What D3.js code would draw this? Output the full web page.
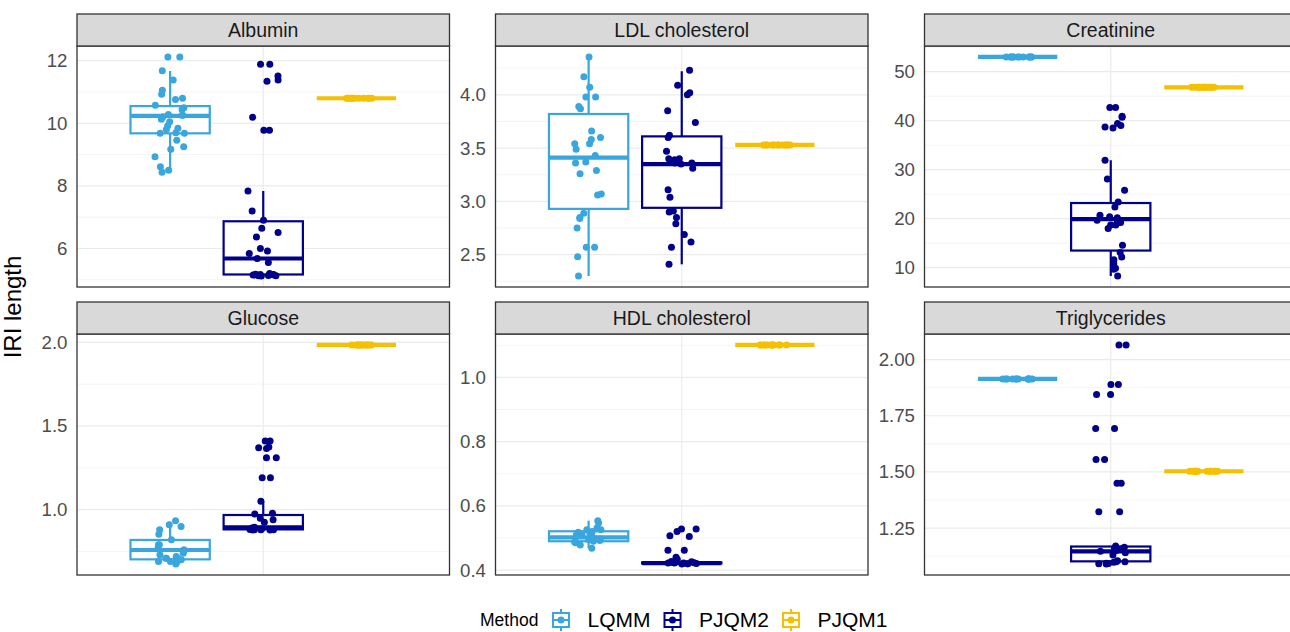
<!DOCTYPE html>
<html>
<head>
<meta charset="utf-8">
<script src="https://cdn.jsdelivr.net/npm/d3@7"></script>
<style>
  html, body { margin: 0; padding: 0; background: #ffffff; }
  svg { display: block; }
  text { font-family: "Liberation Sans", Arial, Helvetica, sans-serif; }
</style>
</head>
<body>
<svg id="chart" width="1290" height="632"></svg>
<script>
// ---- Data --------------------------------------------------------------
const biomarkers = ["Albumin", "LDL cholesterol", "Creatinine", "Glucose", "HDL cholesterol", "Triglycerides"];
const methods = ["LQMM", "PJQM2", "PJQM1"];

// IRI lengths per biomarker and method
const albuminLQMM = [12.12, 12.12, 11.68, 11.38, 11.06, 10.93, 10.80, 10.76, 10.58, 10.50, 10.44, 10.26, 10.26, 10.21, 10.13, 10.28, 9.92, 9.84, 9.80, 9.70, 9.68, 9.68, 9.46, 9.25, 9.17, 8.93, 8.61, 8.44, 8.50, 10.05];
const albuminPJQM2 = [11.89, 11.89, 11.51, 11.38, 11.34, 10.19, 9.78, 9.78, 7.84, 7.20, 6.90, 6.65, 6.51, 6.37, 6.00, 5.92, 5.84, 5.55, 5.68, 5.20, 5.18, 5.17, 5.16, 5.15, 5.14, 5.13, 5.12, 5.15, 5.17, 5.13];
const albuminPJQM1 = [10.80, 10.80, 10.80, 10.80, 10.80, 10.80, 10.80, 10.80, 10.80, 10.80, 10.80, 10.80];

const ldlLQMM = [4.355, 4.17, 4.07, 3.98, 3.98, 3.89, 3.87, 3.66, 3.60, 3.58, 3.54, 3.54, 3.49, 3.43, 3.37, 3.36, 3.29, 3.26, 3.07, 3.06, 2.89, 2.85, 2.84, 2.75, 2.57, 2.57, 2.48, 2.30];
const ldlPJQM2 = [4.23, 4.09, 4.02, 4.00, 3.85, 3.74, 3.62, 3.60, 3.47, 3.40, 3.40, 3.39, 3.35, 3.36, 3.37, 3.36, 3.31, 3.11, 3.04, 2.90, 2.91, 2.85, 2.79, 2.69, 2.62, 2.57, 2.41];
const ldlPJQM1 = [3.53, 3.53, 3.53, 3.53, 3.53, 3.53, 3.53, 3.53, 3.53, 3.53, 3.53, 3.53];

const creatinineLQMM = [53.0, 53.0, 53.0, 53.0, 53.0, 53.0, 53.0, 53.0, 53.0, 53.0, 53.0, 53.0];
const creatininePJQM2 = [42.7, 42.7, 40.7, 40.9, 38.7, 38.5, 39.0, 39.4, 31.9, 28.1, 25.8, 23.4, 22.4, 20.7, 20.4, 20.2, 19.7, 19.2, 18.7, 18.7, 19.1, 18.0, 14.6, 13.1, 12.2, 11.6, 10.8, 9.9, 9.7, 8.3];
const creatininePJQM1 = [46.8, 46.8, 46.8, 46.8, 46.8, 46.8, 46.8, 46.8, 46.8, 46.8, 46.8, 46.8];

const glucoseLQMM = [0.934, 0.91, 0.90, 0.88, 0.853, 0.82, 0.79, 0.79, 0.77, 0.76, 0.74, 0.73, 0.71, 0.71, 0.71, 0.71, 0.69, 0.69, 0.675, 0.69, 0.70, 0.72, 0.75];
const glucosePJQM2 = [1.41, 1.41, 1.375, 1.37, 1.365, 1.31, 1.31, 1.19, 1.19, 1.05, 0.978, 0.974, 0.948, 0.94, 0.925, 0.88, 0.88, 0.878, 0.88, 0.882, 0.879, 0.885, 0.89, 0.895];
const glucosePJQM1 = [1.984, 1.984, 1.984, 1.984, 1.984, 1.984, 1.984, 1.984, 1.984, 1.984, 1.984, 1.984];

const hdlLQMM = [0.554, 0.547, 0.531, 0.526, 0.526, 0.516, 0.52, 0.518, 0.51, 0.502, 0.497, 0.488, 0.485, 0.49, 0.487, 0.468, 0.492, 0.495, 0.505, 0.512, 0.478, 0.50];
const hdlPJQM2 = [0.528, 0.528, 0.52, 0.507, 0.505, 0.462, 0.462, 0.426, 0.424, 0.42, 0.427, 0.434, 0.419, 0.44, 0.422, 0.422, 0.421, 0.423, 0.422, 0.42];
const hdlPJQM1 = [1.101, 1.101, 1.101, 1.101, 1.101, 1.101, 1.101, 1.101, 1.101, 1.101, 1.101, 1.101];

const trigLQMM = [1.914, 1.914, 1.914, 1.914, 1.914, 1.914, 1.914, 1.914, 1.914, 1.914, 1.914, 1.914];
const trigPJQM2 = [2.065, 2.065, 1.889, 1.889, 1.844, 1.844, 1.693, 1.693, 1.555, 1.555, 1.45, 1.45, 1.323, 1.323, 1.17, 1.16, 1.13, 1.15, 1.157, 1.147, 1.165, 1.14, 1.10, 1.094, 1.091, 1.105, 1.10, 1.092, 1.098, 1.09];
const trigPJQM1 = [1.503, 1.503, 1.503, 1.503, 1.503, 1.503, 1.503, 1.503, 1.503, 1.503, 1.503, 1.503];

// Box summaries per method: [lower whisker, Q1, median, Q3, upper whisker]
const albuminStats = [[8.44, 9.68, 10.24, 10.55, 11.67], [5.12, 5.17, 5.68, 6.87, 7.84], [10.80, 10.80, 10.80, 10.80, 10.80]];
const ldlStats = [[2.30, 2.93, 3.41, 3.82, 4.35], [2.41, 2.94, 3.35, 3.61, 4.22], [3.53, 3.53, 3.53, 3.53, 3.53]];
const creatinineStats = [[53.0, 53.0, 53.0, 53.0, 53.0], [8.3, 13.5, 19.9, 23.2, 31.9], [46.8, 46.8, 46.8, 46.8, 46.8]];
const glucoseStats = [[0.675, 0.703, 0.759, 0.819, 0.928], [0.878, 0.882, 0.894, 0.968, 1.05], [1.984, 1.984, 1.984, 1.984, 1.984]];
const hdlStats = [[0.468, 0.490, 0.502, 0.521, 0.554], [0.421, 0.421, 0.422, 0.424, 0.424], [1.101, 1.101, 1.101, 1.101, 1.101]];
const trigStats = [[1.914, 1.914, 1.914, 1.914, 1.914], [1.09, 1.102, 1.146, 1.168, 1.17], [1.503, 1.503, 1.503, 1.503, 1.503]];

// y-axis breaks per panel
const albuminTicks = [6, 8, 10, 12];
const ldlTicks = [2.5, 3.0, 3.5, 4.0];
const creatinineTicks = [10, 20, 30, 40, 50];
const glucoseTicks = [1.0, 1.5, 2.0];
const hdlTicks = [0.4, 0.6, 0.8, 1.0];
const trigTicks = [1.25, 1.50, 1.75, 2.00];
const tickDecimals = [0, 1, 0, 1, 1, 2];

// ---- Assemble panel table ----------------------------------------------
const panelPoints = [
  [albuminLQMM, albuminPJQM2, albuminPJQM1],
  [ldlLQMM, ldlPJQM2, ldlPJQM1],
  [creatinineLQMM, creatininePJQM2, creatininePJQM1],
  [glucoseLQMM, glucosePJQM2, glucosePJQM1],
  [hdlLQMM, hdlPJQM2, hdlPJQM1],
  [trigLQMM, trigPJQM2, trigPJQM1]
];
const panelStats = [albuminStats, ldlStats, creatinineStats, glucoseStats, hdlStats, trigStats];
const panelTicks = [albuminTicks, ldlTicks, creatinineTicks, glucoseTicks, hdlTicks, trigTicks];

// ---- Appearance --------------------------------------------------------
const colors = ["#39A6DE", "#00008B", "#F5C000"];
const panelLefts = [77, 495.5, 924.5];
const stripTops = [14, 302];
const PANEL_W = 372.5, STRIP_H = 32, PANEL_H = 241;
const POINT_R = 3.5;

const svg = d3.select("#chart");
svg.append("rect").attr("width", 1290).attr("height", 632).attr("fill", "#ffffff");

// single discrete x position, dodged into three groups
const x = d3.scaleLinear().domain([0.4, 1.6]).range([0, PANEL_W]);
const dodge = d3.scaleOrdinal().domain(methods).range([0.7, 1.0, 1.3]);
const BOX_HALF = 0.1277;
const JITTER = 0.05;
const rng = d3.randomLcg(0.4217);

biomarkers.forEach((name, i) => {
  const col = i % 3, row = Math.floor(i / 3);
  const left = panelLefts[col];
  const stripTop = stripTops[row];
  const top = stripTop + STRIP_H;

  const allVals = panelPoints[i].flat().concat(panelStats[i].flat());
  const lo = d3.min(allVals), hi = d3.max(allVals);
  const pad = (hi - lo) * 0.05;
  const y = d3.scaleLinear().domain([lo - pad, hi + pad]).range([PANEL_H, 0]);

  const clipId = "clip" + i;
  svg.append("clipPath").attr("id", clipId)
    .append("rect").attr("x", 0).attr("y", 0).attr("width", PANEL_W).attr("height", PANEL_H);

  const g = svg.append("g").attr("transform", `translate(${left},${top})`);
  const inner = g.append("g").attr("clip-path", `url(#${clipId})`);

  // grid: minor breaks halfway between majors
  const ticks = panelTicks[i];
  const step = ticks[1] - ticks[0];
  const minors = [ticks[0] - step / 2]
    .concat(ticks.map(t => t + step / 2))
    .filter(v => v >= y.domain()[0] && v <= y.domain()[1]);

  inner.selectAll("line.minor").data(minors).join("line")
    .attr("class", "minor")
    .attr("x1", 0).attr("x2", PANEL_W)
    .attr("y1", d => y(d)).attr("y2", d => y(d))
    .attr("stroke", "#ececec").attr("stroke-width", 0.6);

  inner.selectAll("line.major").data(ticks.filter(v => v >= y.domain()[0] && v <= y.domain()[1])).join("line")
    .attr("class", "major")
    .attr("x1", 0).attr("x2", PANEL_W)
    .attr("y1", d => y(d)).attr("y2", d => y(d))
    .attr("stroke", "#ebebeb").attr("stroke-width", 1.2);

  inner.append("line")
    .attr("x1", x(1)).attr("x2", x(1)).attr("y1", 0).attr("y2", PANEL_H)
    .attr("stroke", "#ebebeb").attr("stroke-width", 1.2);

  // boxplots
  methods.forEach((m, k) => {
    const s = panelStats[i][k];
    const cx = x(dodge(m));
    const x0 = x(dodge(m) - BOX_HALF), x1 = x(dodge(m) + BOX_HALF);
    const bg = inner.append("g").attr("stroke", colors[k]).attr("fill", "none");
    bg.append("line").attr("x1", cx).attr("x2", cx).attr("y1", y(s[3])).attr("y2", y(s[4])).attr("stroke-width", 2.2);
    bg.append("line").attr("x1", cx).attr("x2", cx).attr("y1", y(s[1])).attr("y2", y(s[0])).attr("stroke-width", 2.2);
    bg.append("rect")
      .attr("x", x0).attr("width", x1 - x0)
      .attr("y", y(s[3])).attr("height", Math.max(0, y(s[1]) - y(s[3])))
      .attr("fill", "#ffffff").attr("stroke-width", 2.2);
    bg.append("line").attr("x1", x0).attr("x2", x1).attr("y1", y(s[2])).attr("y2", y(s[2]))
      .attr("stroke-width", 4.2);
  });

  // jittered points
  methods.forEach((m, k) => {
    inner.append("g").selectAll("circle").data(panelPoints[i][k]).join("circle")
      .attr("cx", () => x(dodge(m) + (rng() * 2 - 1) * JITTER))
      .attr("cy", d => y(d))
      .attr("r", POINT_R)
      .attr("fill", colors[k]);
  });

  // panel border
  g.append("rect").attr("x", 0).attr("y", 0).attr("width", PANEL_W).attr("height", PANEL_H)
    .attr("fill", "none").attr("stroke", "#333333").attr("stroke-width", 1.3);

  // strip
  svg.append("rect").attr("x", left).attr("y", stripTop).attr("width", PANEL_W).attr("height", STRIP_H)
    .attr("fill", "#d9d9d9").attr("stroke", "#333333").attr("stroke-width", 1.3);
  svg.append("text").attr("x", left + PANEL_W / 2).attr("y", stripTop + STRIP_H / 2)
    .attr("dy", "0.35em").attr("text-anchor", "middle")
    .attr("font-size", 19.5).attr("fill", "#1a1a1a").text(name);

  // y axis labels
  const fmt = d3.format("." + tickDecimals[i] + "f");
  const axis = d3.axisLeft(y).tickValues(ticks).tickFormat(fmt).tickSize(0).tickPadding(9.5);
  const ag = g.append("g").call(axis);
  ag.select(".domain").remove();
  ag.selectAll("text").attr("font-size", 18.7).attr("fill", "#4d4d4d")
    .attr("font-family", "\"Liberation Sans\", Arial, sans-serif");
});

// y-axis title
svg.append("text")
  .attr("transform", "translate(20.5,307) rotate(-90)")
  .attr("text-anchor", "middle").attr("font-size", 24).attr("fill", "#000000")
  .text("IRI length");

// legend
const legend = svg.append("g");
const LEG_Y = 620;
legend.append("text").attr("x", 480).attr("y", LEG_Y).attr("dy", "0.35em")
  .attr("font-size", 17.5).attr("fill", "#000000").text("Method");
let kx = 553;
methods.forEach((m, k) => {
  const kg = legend.append("g").attr("stroke", colors[k]).attr("fill", "none");
  const cx = kx + 8;
  kg.append("line").attr("x1", cx).attr("x2", cx).attr("y1", LEG_Y - 11).attr("y2", LEG_Y - 7).attr("stroke-width", 2);
  kg.append("line").attr("x1", cx).attr("x2", cx).attr("y1", LEG_Y + 7).attr("y2", LEG_Y + 11).attr("stroke-width", 2);
  kg.append("rect").attr("x", kx).attr("y", LEG_Y - 7).attr("width", 16).attr("height", 14)
    .attr("fill", "#ffffff").attr("stroke-width", 2);
  kg.append("line").attr("x1", kx).attr("x2", kx + 16).attr("y1", LEG_Y).attr("y2", LEG_Y).attr("stroke-width", 2);
  legend.append("circle").attr("cx", cx).attr("cy", LEG_Y).attr("r", POINT_R).attr("fill", colors[k]);
  const label = legend.append("text").attr("x", kx + 34.5).attr("y", LEG_Y).attr("dy", "0.35em")
    .attr("font-size", 21).attr("fill", "#000000").text(m);
  kx = kx + 34.5 + label.node().getComputedTextLength() + 14;
});
</script>
</body>
</html>
